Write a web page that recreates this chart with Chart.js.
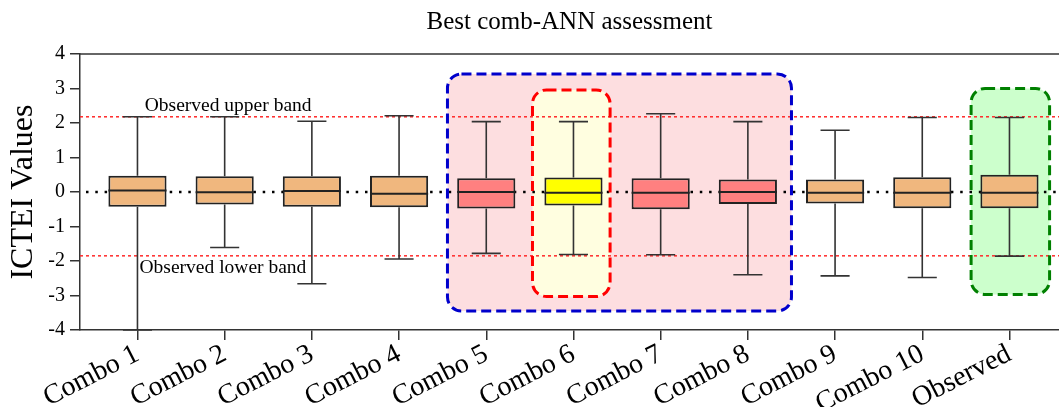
<head>
    <title>Best comb-ANN assessment</title>
    <script src="https://cdn.jsdelivr.net/npm/chart.js"></script>
</head>
<body>
    <canvas id="chart" width="1059" height="407"></canvas>

    <script>
      // categories and box statistics
      const categories = ['Combo 1', 'Combo 2', 'Combo 3', 'Combo 4', 'Combo 5', 'Combo 6',
                          'Combo 7', 'Combo 8', 'Combo 9', 'Combo 10', 'Observed'];
      const whiskerLow  = [-4.00, -1.61, -2.66, -1.94, -1.78, -1.81, -1.82, -2.40, -2.43, -2.48, -1.86];
      const q1          = [-0.43, -0.36, -0.43, -0.44, -0.48, -0.39, -0.50, -0.35, -0.33, -0.47, -0.47];
      const medians     = [ 0.04, -0.01,  0.03, -0.05,  0.00, -0.02, -0.02,  0.00, -0.02, -0.02, -0.02];
      const q3          = [ 0.47,  0.46,  0.46,  0.47,  0.40,  0.42,  0.40,  0.36,  0.36,  0.43,  0.50];
      const whiskerHigh = [ 2.18,  2.18,  2.05,  2.21,  2.04,  2.04,  2.27,  2.04,  1.79,  2.16,  2.16];
      const yTicks = [-4, -3, -2, -1, 0, 1, 2, 3, 4];

      const upperBand = 2.18;
      const lowerBand = -1.85;

      const boxColors = categories.map((c, i) => {
        if (i === 5) return '#ffff00';
        if (i === 4 || i === 6 || i === 7) return '#ff8080';
        return '#f0b77e';
      });

      // highlighted groups (data units)
      const highlights = [
        { x0: 3.555, x1: 7.50, y0: -3.45, y1: 3.42, fill: '#fddee0', stroke: '#0000cc' },
        { x0: 4.53, x1: 5.42, y0: -3.03, y1: 2.96, fill: '#fffee0', stroke: '#ff0000' },
        { x0: 9.56, x1: 10.46, y0: -2.97, y1: 3.00, fill: '#ccffcc', stroke: '#008000' }
      ];

      const serif = '"Liberation Serif", "DejaVu Serif", serif';

      const boxExtras = {
        id: 'boxExtras',
        beforeDatasetsDraw(chart) {
          const { ctx, chartArea: a, scales: { x, y } } = chart;
          ctx.save();
          highlights.forEach(h => {
            const l = x.getPixelForValue(h.x0), r = x.getPixelForValue(h.x1);
            const t = y.getPixelForValue(h.y1), b = y.getPixelForValue(h.y0);
            ctx.beginPath();
            ctx.roundRect(l, t, r - l, b - t, 14);
            ctx.fillStyle = h.fill;
            ctx.fill();
          });
          // band lines
          ctx.strokeStyle = '#ff2a2a';
          ctx.lineWidth = 1.5;
          ctx.setLineDash([3, 3]);
          [upperBand, lowerBand].forEach(v => {
            const py = y.getPixelForValue(v);
            ctx.beginPath(); ctx.moveTo(a.left, py); ctx.lineTo(a.right, py); ctx.stroke();
          });
          // zero line
          ctx.strokeStyle = '#000';
          ctx.lineWidth = 2.5;
          ctx.setLineDash([2.5, 6.8]);
          const pz = y.getPixelForValue(0);
          ctx.beginPath(); ctx.moveTo(a.left + 6, pz); ctx.lineTo(a.right, pz); ctx.stroke();
          // highlight borders
          ctx.lineWidth = 3;
          ctx.setLineDash([10, 5]);
          highlights.forEach(h => {
            const l = x.getPixelForValue(h.x0), r = x.getPixelForValue(h.x1);
            const t = y.getPixelForValue(h.y1), b = y.getPixelForValue(h.y0);
            ctx.beginPath();
            ctx.roundRect(l, t, r - l, b - t, 14);
            ctx.strokeStyle = h.stroke;
            ctx.stroke();
          });
          ctx.restore();
        },
        afterDatasetsDraw(chart) {
          const { ctx, chartArea: a, scales: { x, y } } = chart;
          const meta = chart.getDatasetMeta(0);
          ctx.save();
          ctx.strokeStyle = '#333';
          meta.data.forEach((bar, i) => {
            const cx = bar.x, half = bar.width / 2, cap = bar.width / 4;
            const pHi = y.getPixelForValue(whiskerHigh[i]);
            const pLo = y.getPixelForValue(whiskerLow[i]);
            const p3 = y.getPixelForValue(q3[i]);
            const p1 = y.getPixelForValue(q1[i]);
            ctx.lineWidth = 1.6;
            ctx.beginPath();
            ctx.moveTo(cx, p3); ctx.lineTo(cx, pHi);
            ctx.moveTo(cx - cap, pHi); ctx.lineTo(cx + cap, pHi);
            ctx.moveTo(cx, p1); ctx.lineTo(cx, pLo);
            ctx.moveTo(cx - cap, pLo); ctx.lineTo(cx + cap, pLo);
            ctx.stroke();
            const pm = y.getPixelForValue(medians[i]);
            ctx.lineWidth = 2;
            ctx.strokeStyle = '#222';
            ctx.beginPath(); ctx.moveTo(cx - half, pm); ctx.lineTo(cx + half, pm); ctx.stroke();
            ctx.strokeStyle = '#333';
          });
          // top frame line
          ctx.lineWidth = 1.5;
          ctx.beginPath(); ctx.moveTo(a.left, a.top); ctx.lineTo(a.right, a.top); ctx.stroke();
          // band labels
          ctx.fillStyle = '#000';
          ctx.font = '19.5px ' + serif;
          ctx.textAlign = 'center';
          ctx.textBaseline = 'alphabetic';
          ctx.fillText('Observed upper band', x.getPixelForValue(1.04), y.getPixelForValue(upperBand) - 6);
          ctx.fillText('Observed lower band', x.getPixelForValue(0.98), y.getPixelForValue(lowerBand) + 17);
          ctx.restore();
        }
      };

      const ctx = document.getElementById('chart').getContext('2d');
      const chart = new Chart(ctx, {
        type: 'bar',
        data: {
          datasets: [{
            data: categories.map((c, i) => ({ x: i, y: [q1[i], q3[i]] })),
            backgroundColor: boxColors,
            borderColor: '#222',
            borderWidth: 2,
            borderSkipped: false,
            barPercentage: 0.667,
            categoryPercentage: 1
          }]
        },
        options: {
          responsive: false,
          animation: false,
          layout: { padding: { left: 0, right: 0, top: 0, bottom: 0 } },
          plugins: {
            legend: { display: false },
            tooltip: { enabled: false },
            title: {
              display: true,
              text: 'Best comb-ANN assessment',
              color: '#000',
              fullSize: false,
              font: { family: serif, size: 25, weight: 'normal' },
              padding: { top: 7, bottom: 17 }
            }
          },
          scales: {
            x: {
              type: 'linear',
              min: -0.659,
              max: 10.568,
              offset: false,
              afterBuildTicks: s => { s.ticks = categories.map((c, i) => ({ value: i })); },
              afterFit: s => { s.height = 77; },
              ticks: {
                autoSkip: false,
                minRotation: 27,
                maxRotation: 27,
                padding: 0,
                color: '#000',
                font: { family: serif, size: 28, lineHeight: 1 },
                callback: v => categories[v]
              },
              grid: { offset: false, drawOnChartArea: false, drawTicks: true, tickLength: 10, color: '#333', lineWidth: 1.5 },
              border: { display: true, color: '#333', width: 1.5 }
            },
            y: {
              min: -4,
              max: 4,
              afterBuildTicks: s => { s.ticks = yTicks.map(v => ({ value: v })); },
              afterFit: s => { s.width = 80; },
              ticks: {
                padding: 5,
                color: '#000',
                font: { family: serif, size: 20 }
              },
              title: {
                display: true,
                text: 'ICTEI Values',
                color: '#000',
                font: { family: serif, size: 32 },
                padding: { top: 4, bottom: 0 }
              },
              grid: { drawOnChartArea: false, drawTicks: true, tickLength: 10, color: '#333', lineWidth: 1.5 },
              border: { display: true, color: '#333', width: 1.5 }
            }
          }
        },
        plugins: [boxExtras]
      });
    </script>

    <style>
      body {
        margin: 0;
        padding: 0;
        background-color: #ffffff;
      }
      canvas {
        display: block;
      }
    </style>
</body>
